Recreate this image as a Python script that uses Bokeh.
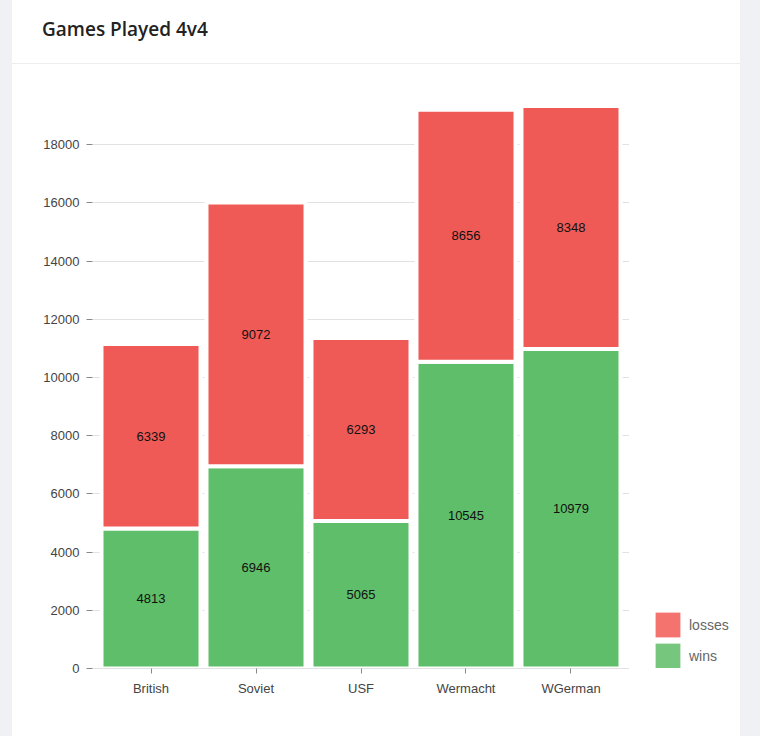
from bokeh.plotting import figure
from bokeh.models import (ColumnDataSource, FactorRange, Range1d, FixedTicker, Legend, LegendItem,
                          Div, LabelSet, NumeralTickFormatter)
from bokeh.layouts import row, column
from bokeh.embed import file_html
from bokeh.resources import INLINE
from bokeh.core.properties import value

factions = ["British", "Soviet", "USF", "Wermacht", "WGerman"]
wins = [4813, 6946, 5065, 10545, 10979]
losses = [6339, 9072, 6293, 8656, 8348]
y_ticks = [0, 2000, 4000, 6000, 8000, 10000, 12000, 14000, 16000, 18000]

RED = "#f05a56"
GREEN = "#5fbe6a"
RED_LEG = "#f4736f"
GREEN_LEG = "#76c67e"
BG = "#eff1f5"
FONT = "Liberation Sans"

total = [w + l for w, l in zip(wins, losses)]
src = ColumnDataSource(dict(
    x=factions, wins=wins, losses=losses, total=total,
    wins_mid=[w / 2 for w in wins],
    losses_mid=[w + l / 2 for w, l in zip(wins, losses)],
    wins_txt=[str(v) for v in wins], losses_txt=[str(v) for v in losses],
))

p = figure(x_range=FactorRange(*factions, range_padding=0.0229),
           y_range=Range1d(0, 20000),
           width=617, height=672, output_backend="svg", toolbar_location=None,
           min_border_left=80, min_border_right=0, min_border_top=22, min_border_bottom=68,
           margin=0)
p.outline_line_color = None
p.background_fill_color = "white"
p.border_fill_color = "white"

p.vbar(x="x", bottom=0, top="wins", width=0.943, source=src,
       fill_color=GREEN, line_color="white", line_width=4)
p.vbar(x="x", bottom="wins", top="total", width=0.943, source=src,
       fill_color=RED, line_color="white", line_width=4)

lbl_kw = dict(text_align="center", text_baseline="middle", text_font_size="13px",
              text_color="#111111", text_font=value(FONT))
p.add_layout(LabelSet(x="x", y="wins_mid", text="wins_txt", source=src, **lbl_kw))
p.add_layout(LabelSet(x="x", y="losses_mid", text="losses_txt", source=src, **lbl_kw))

# y axis
p.yaxis.ticker = FixedTicker(ticks=y_ticks)
p.yaxis.formatter = NumeralTickFormatter(format="0")
p.yaxis.axis_line_color = None
p.yaxis.major_tick_in = 0
p.yaxis.major_tick_out = 6
p.yaxis.major_tick_line_color = "#888888"
p.yaxis.minor_tick_line_color = None
p.yaxis.major_label_standoff = 7
p.yaxis.major_label_text_font_size = "13px"
p.yaxis.major_label_text_color = "#444444"
p.yaxis.major_label_text_font = FONT

# x axis
p.xaxis.axis_line_color = "#e2e2e2"
p.xaxis.axis_line_width = 1
p.xaxis.major_tick_in = 0
p.xaxis.major_tick_out = 5
p.xaxis.major_tick_line_color = "#888888"
p.xaxis.minor_tick_line_color = None
p.xaxis.major_label_standoff = 7
p.xaxis.major_label_text_font_size = "13px"
p.xaxis.major_label_text_color = "#444444"
p.xaxis.major_label_text_font = FONT

p.xgrid.grid_line_color = None
p.ygrid.grid_line_color = "#e2e2e2"
p.ygrid.ticker = FixedTicker(ticks=y_ticks)

# legend panel (separate small figure to the right of the plot)
pl = figure(x_range=FactorRange(*factions), y_range=Range1d(0, 20000),
            width=111, height=672, output_backend="svg", toolbar_location=None,
            x_axis_type=None, y_axis_type=None, min_border=0, margin=0)
pl.outline_line_color = None
pl.xgrid.visible = False
pl.ygrid.visible = False
pl.background_fill_color = "white"
pl.border_fill_color = "white"
r_loss = pl.vbar(x="x", top="losses", width=0, source=src, fill_color=RED_LEG, line_color=None)
r_win = pl.vbar(x="x", top="wins", width=0, source=src, fill_color=GREEN_LEG, line_color=None)
legend = Legend(items=[LegendItem(label="losses", renderers=[r_loss]),
                       LegendItem(label="wins", renderers=[r_win])],
                location=(23, -3), orientation="vertical",
                glyph_width=31, glyph_height=31, spacing=-3, padding=0, margin=0,
                label_standoff=6, label_text_font_size="14px", label_text_color="#666666",
                label_text_font=FONT, border_line_alpha=0, background_fill_alpha=0)
pl.add_layout(legend, "center")

title = Div(text='<div style="box-sizing:border-box;width:728px;height:64px;padding:17px 30px 0 30px;'
                 'line-height:24px;font-family:\'Open Sans\';font-weight:600;font-size:19px;'
                 'color:#222222;border-bottom:1px solid #eeeeee;background:white;">Games Played 4v4</div>',
            width=728, height=64, margin=0)

left_strip = Div(text="", width=12, height=736, margin=0, styles={"background-color": BG})
right_strip = Div(text="", width=20, height=736, margin=0, styles={"background-color": BG})

layout = row(left_strip,
             column(title, row(p, pl, spacing=0, margin=0), spacing=0, margin=0),
             right_strip, spacing=0, margin=0)

open("out.html", "w").write(file_html(layout, INLINE))
